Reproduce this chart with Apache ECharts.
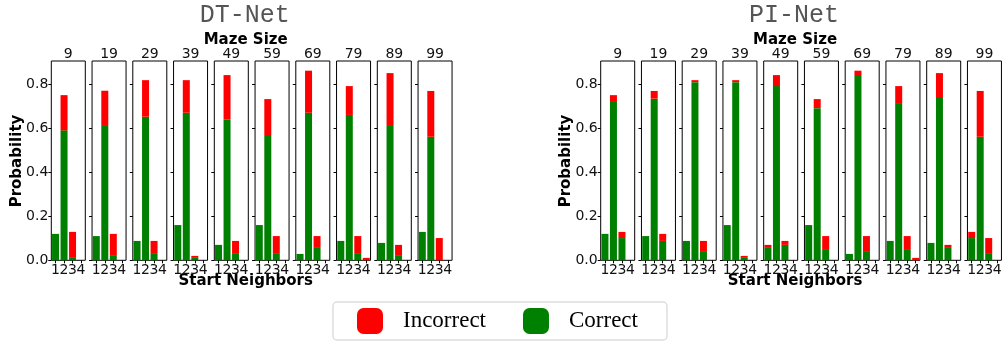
<!DOCTYPE html>
<html>
<head>
<meta charset="utf-8">
<script src="https://cdn.jsdelivr.net/npm/echarts@6/dist/echarts.min.js"></script>
<style>html,body{margin:0;padding:0;background:#fff}#c{width:1002px;height:341px}</style>
</head>
<body>
<div id="c"></div>
<script>
const sizes = [9, 19, 29, 39, 49, 59, 69, 79, 89, 99];
const neighbors = ['1', '2', '3', '4'];
const yTicks = [0, 0.2, 0.4, 0.6, 0.8];
const panelTitles = ['DT-Net', 'PI-Net'];

const dtCorrect = [
  [0.12, 0.59, 0.011, 0], [0.11, 0.61, 0.02, 0], [0.088, 0.652, 0.029, 0], [0.16, 0.67, 0.011, 0],
  [0.07, 0.641, 0.029, 0], [0.16, 0.569, 0.029, 0], [0.029, 0.67, 0.06, 0], [0.088, 0.66, 0.029, 0],
  [0.079, 0.61, 0.02, 0], [0.129, 0.561, 0, 0]
];
const dtIncorrect = [
  [0, 0.16, 0.118, 0], [0, 0.16, 0.10, 0], [0, 0.166, 0.059, 0], [0, 0.148, 0.009, 0],
  [0, 0.20, 0.059, 0], [0, 0.163, 0.081, 0], [0, 0.191, 0.05, 0], [0, 0.131, 0.081, 0.011],
  [0, 0.24, 0.05, 0], [0, 0.208, 0.101, 0]
];
const piCorrect = [
  [0.12, 0.719, 0.101, 0], [0.11, 0.734, 0.088, 0], [0.088, 0.809, 0.038, 0], [0.16, 0.809, 0.011, 0],
  [0.06, 0.791, 0.07, 0], [0.16, 0.691, 0.051, 0], [0.029, 0.841, 0.038, 0], [0.088, 0.71, 0.051, 0],
  [0.079, 0.741, 0.06, 0], [0.101, 0.561, 0.029, 0]
];
const piIncorrect = [
  [0, 0.031, 0.028, 0], [0, 0.035, 0.032, 0], [0, 0.009, 0.05, 0], [0, 0.009, 0.009, 0],
  [0.01, 0.05, 0.018, 0], [0, 0.041, 0.059, 0], [0, 0.02, 0.072, 0], [0, 0.081, 0.059, 0.011],
  [0, 0.109, 0.01, 0], [0.028, 0.208, 0.072, 0]
];

const panels = [
  {correct: dtCorrect, incorrect: dtIncorrect, x0: 51.3},
  {correct: piCorrect, incorrect: piIncorrect, x0: 600.7}
];
const step = 40.75, gw = 34, gTop = 61, gH = 199.3;
const RED = '#ff0000', GREEN = '#008000';
const SANS = 'DejaVu Sans';

const grid = [], xAxis = [], yAxis = [], series = [], graphic = [];
panels.forEach((p, pi) => {
  sizes.forEach((s, i) => {
    const idx = grid.length;
    const left = p.x0 + step * i;
    grid.push({left: left, top: gTop, width: gw, height: gH, show: true,
      borderColor: '#000', borderWidth: 1, backgroundColor: 'transparent', outerBoundsMode: 'none'});
    xAxis.push({type: 'category', gridIndex: idx, data: neighbors,
      axisLine: {show: false},
      axisTick: {show: true, alignWithLabel: true, length: 3, lineStyle: {color: '#000'}},
      axisLabel: {show: true, interval: 0, margin: 3, fontSize: 14, fontFamily: SANS, color: '#111'}});
    yAxis.push({type: 'value', gridIndex: idx, min: 0, max: 0.905,
      splitLine: {show: false}, axisLine: {show: false},
      axisTick: {show: true, length: 3, customValues: yTicks, lineStyle: {color: '#000'}},
      axisLabel: {show: i === 0, customValues: yTicks, margin: 3, fontSize: 14, fontFamily: SANS, color: '#111',
        formatter: v => v.toFixed(1)}});
    series.push({name: 'Correct', type: 'bar', xAxisIndex: idx, yAxisIndex: idx, stack: 's' + idx,
      data: p.correct[i], barWidth: 7, itemStyle: {color: GREEN}, silent: true});
    series.push({name: 'Incorrect', type: 'bar', xAxisIndex: idx, yAxisIndex: idx, stack: 's' + idx,
      data: p.incorrect[i], barWidth: 7, itemStyle: {color: RED}, silent: true});
    graphic.push({type: 'text', x: left + gw / 2, y: 54.5,
      style: {text: String(s), fontSize: 14, fontFamily: SANS, fill: '#111', align: 'center', verticalAlign: 'middle'}});
  });
  const cx = p.x0 + (step * 9 + gw) / 2 - 7;
  graphic.push({type: 'text', x: cx, y: 15,
    style: {text: panelTitles[pi], fontSize: 25, fontFamily: 'Liberation Mono', fill: '#555', align: 'center', verticalAlign: 'middle'}});
  graphic.push({type: 'text', x: cx + 1, y: 40,
    style: {text: 'Maze Size', fontSize: 15, fontWeight: 'bold', fontFamily: SANS, fill: '#000', align: 'center', verticalAlign: 'middle'}});
  graphic.push({type: 'text', x: cx + 1, y: 281,
    style: {text: 'Start Neighbors', fontSize: 15, fontWeight: 'bold', fontFamily: SANS, fill: '#000', align: 'center', verticalAlign: 'middle'}});
  graphic.push({type: 'text', x: p.x0 - 34.3, y: 161, rotation: Math.PI / 2,
    style: {text: 'Probability', fontSize: 15, fontWeight: 'bold', fontFamily: SANS, fill: '#000', align: 'center', verticalAlign: 'middle'}});
});

const chart = echarts.init(document.getElementById('c'), null, {renderer: 'canvas'});
chart.setOption({
  animation: false,
  grid, xAxis, yAxis, series, graphic,
  legend: {
    data: ['Incorrect', 'Correct'],
    left: 333, top: 302,
    padding: [6, 29, 6, 24],
    itemWidth: 26, itemHeight: 26, itemGap: 37,
    icon: 'roundRect',
    borderColor: '#dddddd', borderWidth: 1.5, borderRadius: 4,
    textStyle: {fontSize: 23, fontFamily: 'Liberation Serif', color: '#000', padding: [0, 0, 0, 15]},
    selectedMode: false
  }
});
</script>
</body>
</html>
